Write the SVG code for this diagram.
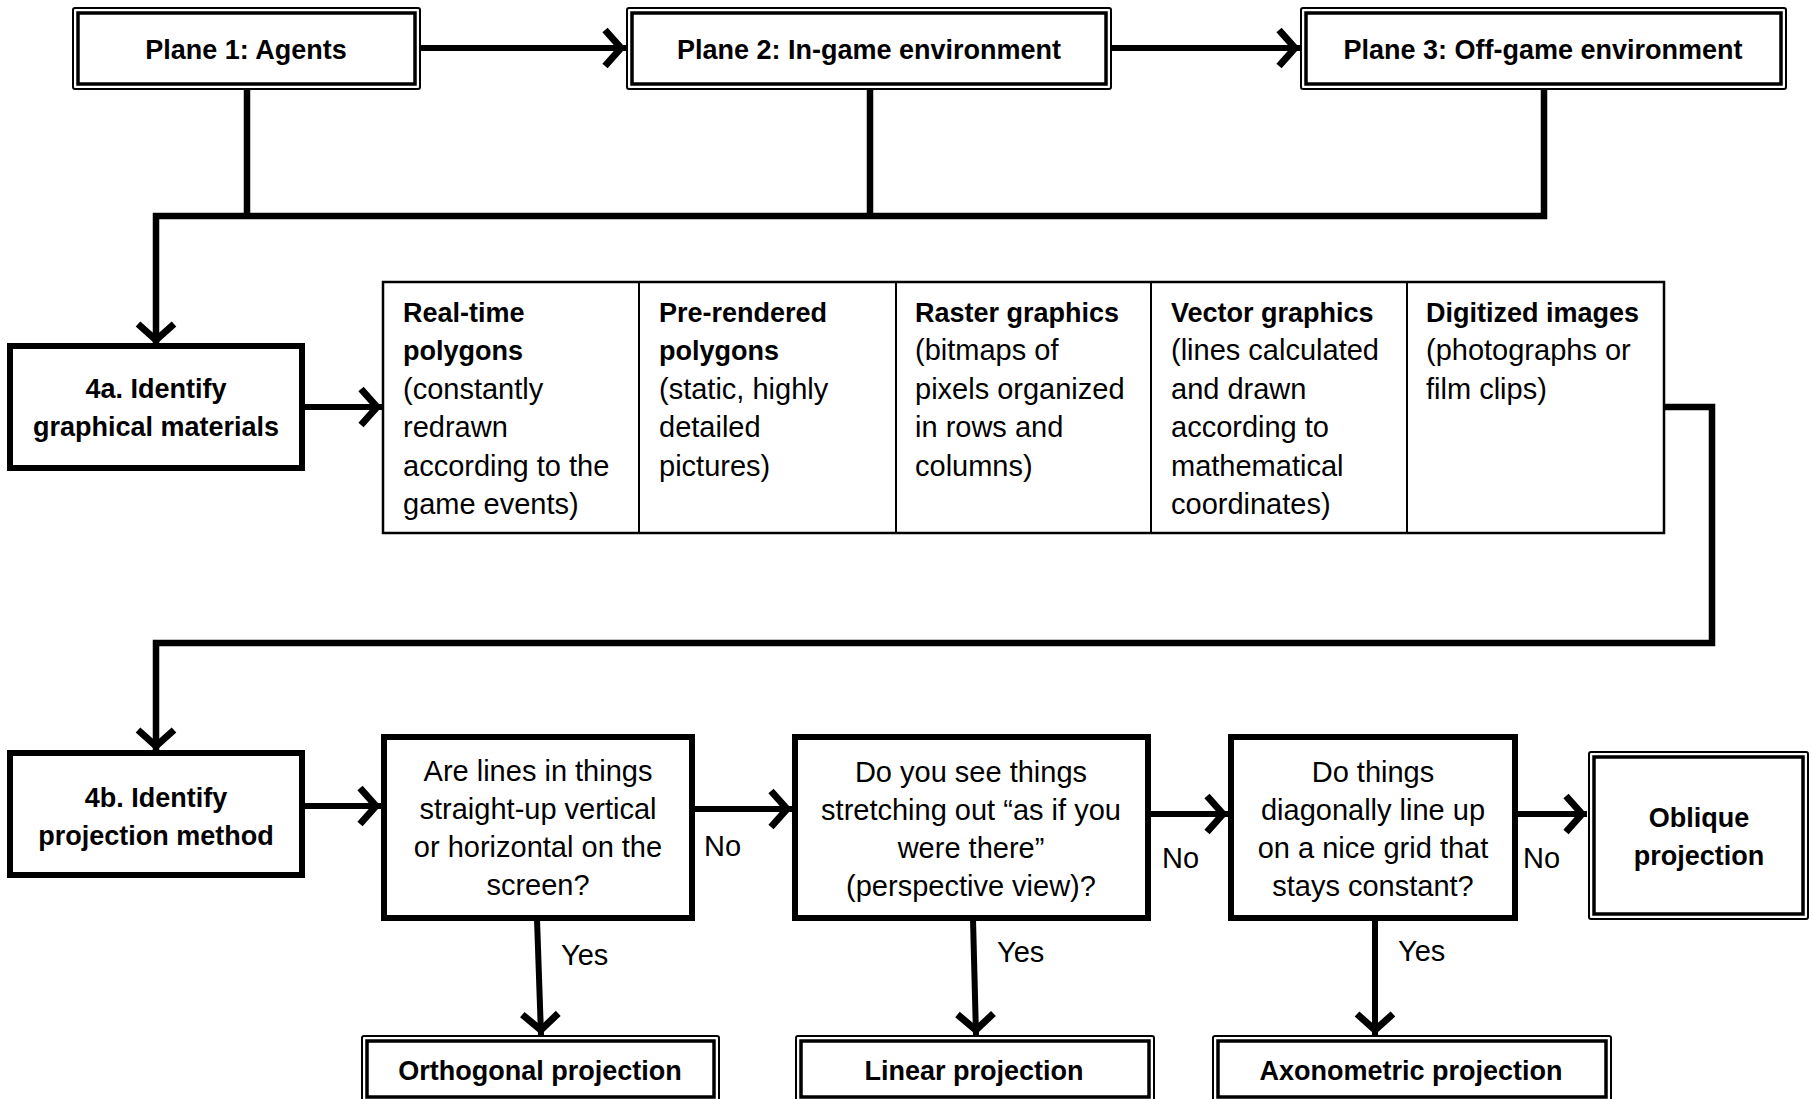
<svg xmlns="http://www.w3.org/2000/svg" width="1813" height="1099" viewBox="0 0 1813 1099">
<defs>
<style>
text{font-family:"Liberation Sans",Arial,sans-serif;fill:#000}
.b{font-weight:bold;font-size:27px}
.r{font-size:29px}
.c{text-anchor:middle}
.thick{fill:#fff;stroke:#000;stroke-width:6}
.dOut{fill:#fff;stroke:#000;stroke-width:2}
.dIn{fill:none;stroke:#000;stroke-width:3.5}
.tbl{fill:#fff;stroke:#000;stroke-width:2.5}
.col{stroke:#000;stroke-width:2}
.con{fill:none;stroke:#000;stroke-width:6.5;stroke-linejoin:miter}
.arr{fill:none;stroke:#000;stroke-width:6;marker-end:url(#ah)}
</style>
<marker id="ah" markerUnits="userSpaceOnUse" markerWidth="50" markerHeight="50" viewBox="-30 -25 50 50" refX="0" refY="0" orient="auto">
<path d="M-21,-18 L-5,0 L-21,18" fill="none" stroke="#000" stroke-width="7" stroke-linejoin="miter"/>
</marker>
</defs>
<rect width="1813" height="1099" fill="#fff"/>

<g id="connectors">
<path class="con" d="M247,89 V216"/>
<path class="con" d="M870,89 V216"/>
<path class="arr" style="stroke-width:6.5" d="M1544,89 V216 H156 V345"/>
<path class="arr" style="stroke-width:6.5" d="M1664,407 H1712 V643 H156 V751"/>
<path class="arr" d="M420,48 H626"/>
<path class="arr" d="M1111,48 H1300"/>
<path class="arr" d="M303,407 H382"/>
<path class="arr" d="M303,806 H381"/>
<path class="arr" d="M693,809 H792"/>
<path class="arr" d="M1149,814 H1228"/>
<path class="arr" d="M1516,814 H1587"/>
<path class="arr" d="M537,919 L541,1035"/>
<path class="arr" d="M973,919 L976,1035"/>
<path class="arr" d="M1375,919 V1035"/>
<text class="r" x="704" y="856">No</text>
<text class="r" x="1162" y="868">No</text>
<text class="r" x="1523" y="868">No</text>
<text class="r" x="561" y="965">Yes</text>
<text class="r" x="997" y="962">Yes</text>
<text class="r" x="1398" y="961">Yes</text>
</g>

<g id="plane1">
<rect class="dOut" x="73" y="8" width="347" height="81" rx="2"/>
<rect class="dIn" x="78" y="13" width="337" height="71"/>
<text class="b c" x="246" y="59">Plane 1: Agents</text>
</g>
<g id="plane2">
<rect class="dOut" x="627" y="8" width="484" height="81" rx="2"/>
<rect class="dIn" x="632" y="13" width="474" height="71"/>
<text class="b c" x="869" y="59">Plane 2: In-game environment</text>
</g>
<g id="plane3">
<rect class="dOut" x="1301" y="8" width="485" height="81" rx="2"/>
<rect class="dIn" x="1306" y="13" width="475" height="71"/>
<text class="b c" x="1543" y="59">Plane 3: Off-game environment</text>
</g>

<g id="step4a">
<rect class="thick" x="10" y="346" width="292" height="122"/>
<text class="b c" x="156" y="398">4a. Identify</text>
<text class="b c" x="156" y="436">graphical materials</text>
</g>

<g id="materials">
<rect class="tbl" x="383" y="282" width="1281" height="251"/>
<line class="col" x1="639" y1="282" x2="639" y2="533"/>
<line class="col" x1="896" y1="282" x2="896" y2="533"/>
<line class="col" x1="1151" y1="282" x2="1151" y2="533"/>
<line class="col" x1="1407" y1="282" x2="1407" y2="533"/>
<text class="b" x="403" y="322">Real-time</text>
<text class="b" x="403" y="360">polygons</text>
<text class="r" x="403" y="399">(constantly</text>
<text class="r" x="403" y="437">redrawn</text>
<text class="r" x="403" y="476">according to the</text>
<text class="r" x="403" y="514">game events)</text>
<text class="b" x="659" y="322">Pre-rendered</text>
<text class="b" x="659" y="360">polygons</text>
<text class="r" x="659" y="399">(static, highly</text>
<text class="r" x="659" y="437">detailed</text>
<text class="r" x="659" y="476">pictures)</text>
<text class="b" x="915" y="322">Raster graphics</text>
<text class="r" x="915" y="360">(bitmaps of</text>
<text class="r" x="915" y="399">pixels organized</text>
<text class="r" x="915" y="437">in rows and</text>
<text class="r" x="915" y="476">columns)</text>
<text class="b" x="1171" y="322">Vector graphics</text>
<text class="r" x="1171" y="360">(lines calculated</text>
<text class="r" x="1171" y="399">and drawn</text>
<text class="r" x="1171" y="437">according to</text>
<text class="r" x="1171" y="476">mathematical</text>
<text class="r" x="1171" y="514">coordinates)</text>
<text class="b" x="1426" y="322">Digitized images</text>
<text class="r" x="1426" y="360">(photographs or</text>
<text class="r" x="1426" y="399">film clips)</text>
</g>

<g id="step4b">
<rect class="thick" x="10" y="753" width="292" height="122"/>
<text class="b c" x="156" y="807">4b. Identify</text>
<text class="b c" x="156" y="845">projection method</text>
</g>

<g id="q1">
<rect class="thick" x="384" y="737" width="308" height="181"/>
<text class="r c" x="538" y="781">Are lines in things</text>
<text class="r c" x="538" y="819">straight-up vertical</text>
<text class="r c" x="538" y="857">or horizontal on the</text>
<text class="r c" x="538" y="895">screen?</text>
</g>
<g id="q2">
<rect class="thick" x="795" y="737" width="353" height="181"/>
<text class="r c" x="971" y="782">Do you see things</text>
<text class="r c" x="971" y="820">stretching out “as if you</text>
<text class="r c" x="971" y="858">were there”</text>
<text class="r c" x="971" y="896">(perspective view)?</text>
</g>
<g id="q3">
<rect class="thick" x="1231" y="737" width="284" height="181"/>
<text class="r c" x="1373" y="782">Do things</text>
<text class="r c" x="1373" y="820">diagonally line up</text>
<text class="r c" x="1373" y="858">on a nice grid that</text>
<text class="r c" x="1373" y="896">stays constant?</text>
</g>
<g id="oblique">
<rect class="dOut" x="1589" y="752" width="219" height="167" rx="2"/>
<rect class="dIn" x="1594" y="757" width="209" height="157"/>
<text class="b c" x="1699" y="827">Oblique</text>
<text class="b c" x="1699" y="865">projection</text>
</g>

<g id="orthogonal">
<rect class="dOut" x="362" y="1036" width="357" height="70" rx="2"/>
<rect class="dIn" x="367" y="1041" width="347" height="56"/>
<text class="b c" x="540" y="1080">Orthogonal projection</text>
</g>
<g id="linear">
<rect class="dOut" x="796" y="1036" width="358" height="70" rx="2"/>
<rect class="dIn" x="801" y="1041" width="348" height="56"/>
<text class="b c" x="974" y="1080">Linear projection</text>
</g>
<g id="axonometric">
<rect class="dOut" x="1213" y="1036" width="398" height="70" rx="2"/>
<rect class="dIn" x="1218" y="1041" width="388" height="56"/>
<text class="b c" x="1411" y="1080">Axonometric projection</text>
</g>
</svg>
